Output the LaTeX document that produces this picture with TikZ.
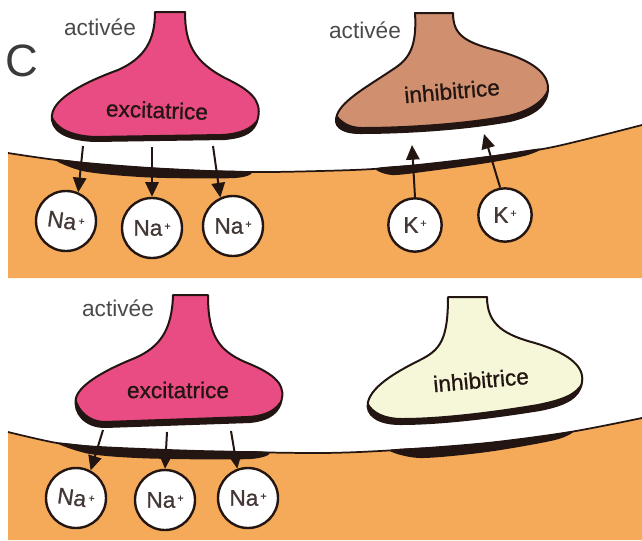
\documentclass[tikz,border=0pt]{standalone}
\usepackage{fontspec}
\setmainfont{Liberation Sans}
\newfontfamily\labelheavy[FakeBold=0.8]{Liberation Sans}
\usetikzlibrary{arrows.meta}
\definecolor{cytoplasm}{HTML}{F4AA58}
\definecolor{excitpink}{HTML}{E84C82}
\definecolor{inhibtan}{HTML}{D09070}
\definecolor{inhibpale}{HTML}{F5F7D8}
\definecolor{inkdark}{HTML}{231512}
\definecolor{labelgray}{HTML}{4A4A4A}
\newcommand{\ionplus}{\kern1.5pt\raisebox{4.5pt}{\fontsize{8}{8}\selectfont +}}
\begin{document}
\begin{tikzpicture}[x=0.75pt,y=-0.75pt,
  txt/.style={font=\fontsize{17}{20}\selectfont},
  statelabel/.style={txt,text=labelgray},
  termlabel/.style={font=\labelheavy\fontsize{17}{20}\selectfont,text=inkdark},
  terminal/.style={draw=inkdark,line width=1.5pt,line join=round},
  density/.style={fill=inkdark},
  membrane/.style={draw=inkdark,line width=1.3pt},
  ion/.style={circle,draw=inkdark,fill=white,line width=1.8pt,inner sep=0pt,
              minimum size=45pt,font=\labelheavy\fontsize{17}{20}\selectfont,text=inkdark!85},
  kion/.style={ion,minimum size=40pt},
  flow/.style={draw=inkdark,line width=1.5pt,
               -{Triangle[length=11pt,width=10pt]}}]
\useasboundingbox (0,0) rectangle (642,540);

% ---------- upper panel: both terminals active ----------
\fill[cytoplasm] plot[smooth] coordinates {(8,153) (65,161) (150,168) (240,172) (320,171) (387,168) (487,157) (553,147) (642,125)}
  -- (642,278) -- (8,278) -- cycle;
\draw[membrane] plot[smooth] coordinates {(8,153) (65,161) (150,168) (240,172) (320,171) (387,168) (487,157) (553,147) (642,125)};
% postsynaptic densities
\fill[density] plot[smooth cycle,tension=0.5] coordinates {(55,159.3) (100,164) (150,167.5) (200,170) (250,171.6) (235,178) (150,177.5) (85,171.5)};
\fill[density] plot[smooth cycle,tension=0.5] coordinates {(377,168) (430,163.5) (487,156.3) (540,148.5) (526,155.5) (487,163) (430,171) (392,175)};

% excitatory terminal
\path[terminal,fill=excitpink] (155,12) -- (185,12)
  .. controls (185,45) and (195,62) .. (225,78)
  .. controls (250,90) and (262,100) .. (258,118)
  .. controls (255,132) and (245,137) .. (225,139)
  -- (95,141)
  .. controls (65,140) and (50,130) .. (52,115)
  .. controls (54,98) and (85,82) .. (118,70)
  .. controls (145,58) and (155,40) .. (155,12) -- cycle;
\fill[inkdark] (52,115) .. controls (50,130) and (65,140) .. (95,141) -- (225,139)
  .. controls (245,137) and (255,132) .. (258,118)
  .. controls (252,128) and (240,133) .. (222,134) -- (95,136)
  .. controls (70,135) and (56,127) .. (52,115) -- cycle;
\node[termlabel,rotate=-2] (exA) at (157,110) {excitatrice};
\node[statelabel] (actA) at (100,27) {activée};
\node[font=\fontsize{34}{36}\selectfont,text=labelgray!80!black] (panelC) at (22,61) {C};

% inhibitory terminal
\path[terminal,fill=inhibtan] (415,13) -- (453,13)
  .. controls (453,35) and (465,42) .. (495,50)
  .. controls (525,58) and (548,70) .. (548,88)
  .. controls (548,105) and (535,115) .. (510,121)
  .. controls (460,130) and (400,133) .. (360,133)
  .. controls (340,133) and (333,125) .. (337,115)
  .. controls (342,100) and (370,85) .. (395,68)
  .. controls (410,58) and (417,45) .. (415,13) -- cycle;
\fill[inkdark] (337,115) .. controls (333,125) and (340,133) .. (360,133)
  .. controls (400,133) and (460,130) .. (510,121)
  .. controls (535,115) and (548,105) .. (548,88)
  .. controls (544,100) and (530,110) .. (508,115)
  .. controls (460,124) and (400,127) .. (362,127)
  .. controls (350,127) and (342,122) .. (337,115) -- cycle;
\node[termlabel,rotate=5] (inA) at (452,91) {inhibitrice};
\node[statelabel] (actB) at (365,30) {activée};

% ions, upper panel
\node[ion] (na1) at (66,221) {\rotatebox{-8}{Na\ionplus}};
\node[ion] (na2) at (152,228) {Na\ionplus};
\node[ion] (na3) at (233,226) {Na\ionplus};
\node[kion] (k1) at (415,225) {K\ionplus};
\node[kion] (k2) at (505,215) {K\ionplus};

\coordinate (r1) at (83,146);
\coordinate (r2) at (152,147);
\coordinate (r3) at (213,146);
\coordinate (q1) at (412,145);
\coordinate (q2) at (484,134);
\draw[flow] (r1) -- (na1.67);
\draw[flow] (r2) -- (na2.90);
\draw[flow] (r3) -- (na3.114);
\draw[flow] (k1.90) -- (q1);
\draw[flow] (k2.100) -- (q2);

% ---------- lower panel: only the excitatory terminal active ----------
\fill[cytoplasm] plot[smooth] coordinates {(8,432) (57,443) (100,447) (200,451) (320,453) (397,450) (487,443) (570,432) (642,418)}
  -- (642,540) -- (8,540) -- cycle;
\draw[membrane] plot[smooth] coordinates {(8,432) (57,443) (100,447) (200,451) (320,453) (397,450) (487,443) (570,432) (642,418)};
\fill[density] plot[smooth cycle,tension=0.5] coordinates {(57,442.7) (100,446.7) (150,449.3) (200,450.8) (267,451.8) (250,459) (150,458.5) (90,454)};
\fill[density] plot[smooth cycle,tension=0.5] coordinates {(390,450) (440,446.7) (487,442.7) (540,436.7) (573,431.2) (555,440) (487,452) (420,458)};

% excitatory terminal
\path[terminal,fill=excitpink] (173,295) -- (208,295)
  .. controls (208,335) and (218,350) .. (245,362)
  .. controls (270,372) and (285,382) .. (282,398)
  .. controls (280,412) and (270,420) .. (250,422)
  -- (105,427)
  .. controls (85,427) and (73,413) .. (76,398)
  .. controls (80,383) and (110,368) .. (135,358)
  .. controls (160,347) and (172,330) .. (173,295) -- cycle;
\fill[inkdark] (76,398) .. controls (73,413) and (85,427) .. (105,427) -- (250,422)
  .. controls (270,420) and (280,412) .. (282,398)
  .. controls (276,410) and (265,415) .. (248,416) -- (105,421)
  .. controls (90,421) and (79,411) .. (76,398) -- cycle;
\node[termlabel] (exB) at (178,390) {excitatrice};
\node[statelabel] (actC) at (118,308) {activée};

% resting inhibitory terminal
\path[terminal,fill=inhibpale] (448,297) -- (487,297)
  .. controls (487,325) and (505,335) .. (535,343)
  .. controls (565,352) and (585,365) .. (582,382)
  .. controls (580,398) and (565,405) .. (540,410)
  .. controls (490,418) and (440,424) .. (400,424)
  .. controls (378,424) and (365,415) .. (368,402)
  .. controls (372,385) and (400,370) .. (420,360)
  .. controls (440,350) and (448,340) .. (448,297) -- cycle;
\fill[inkdark] (368,402) .. controls (365,415) and (378,424) .. (400,424)
  .. controls (440,424) and (490,418) .. (540,410)
  .. controls (565,405) and (580,398) .. (582,382)
  .. controls (576,394) and (562,399) .. (538,404)
  .. controls (490,412) and (440,418) .. (402,418)
  .. controls (385,418) and (372,412) .. (368,402) -- cycle;
\node[termlabel,rotate=5] (inB) at (481,380) {inhibitrice};

% ions, lower panel
\node[ion] (na4) at (76,498) {\rotatebox{-8}{Na\ionplus}};
\node[ion] (na5) at (165,500) {Na\ionplus};
\node[ion] (na6) at (248,498) {Na\ionplus};

\coordinate (r4) at (103,430);
\coordinate (r5) at (167,432);
\coordinate (r6) at (231,431);
\draw[flow] (r4) -- (na4.62);
\draw[flow] (r5) -- (na5.90);
\draw[flow] (r6) -- (na6.110);
\end{tikzpicture}
\end{document}
